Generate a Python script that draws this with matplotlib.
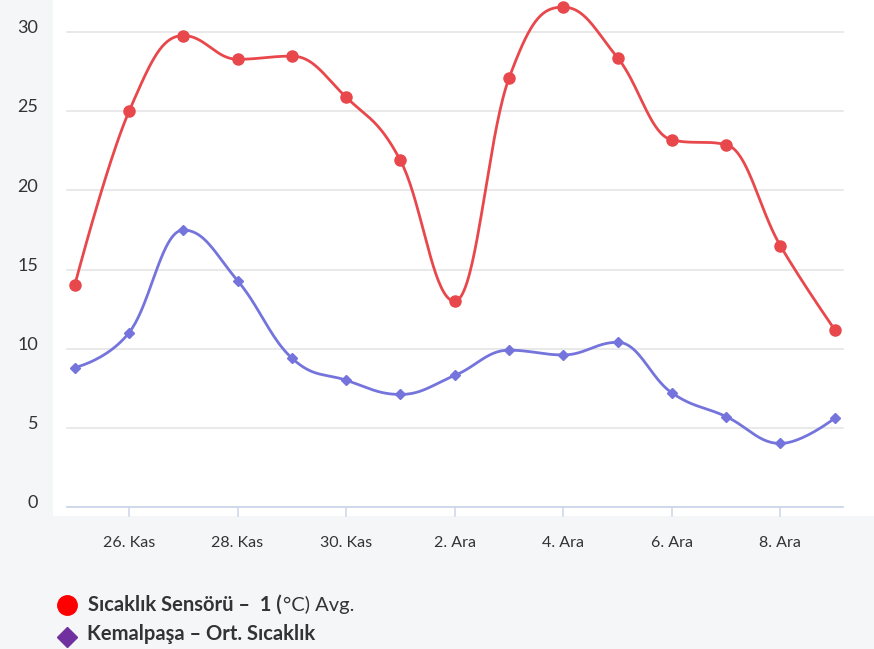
import numpy as np
import matplotlib
matplotlib.use("Agg")
import matplotlib.pyplot as plt
from matplotlib.lines import Line2D
import matplotlib.transforms as mtransforms

# Daily values, 25 Nov - 9 Dec
days = ["25. Kas", "26. Kas", "27. Kas", "28. Kas", "29. Kas", "30. Kas",
        "1. Ara", "2. Ara", "3. Ara", "4. Ara", "5. Ara", "6. Ara",
        "7. Ara", "8. Ara", "9. Ara"]
sensor_avg = [14.0, 25.0, 29.8, 28.3, 28.5, 25.9, 21.9, 13.0,
              27.1, 31.6, 28.4, 23.2, 22.9, 16.5, 11.2]
kemalpasa_avg = [8.8, 11.0, 17.5, 14.3, 9.4, 8.0, 7.1, 8.3,
                 9.9, 9.6, 10.4, 7.2, 5.7, 4.0, 5.6]
tick_labels = ["26. Kas", "28. Kas", "30. Kas", "2. Ara", "4. Ara", "6. Ara", "8. Ara"]
y_ticks = [0, 5, 10, 15, 20, 25, 30]

series_names = ["Sıcaklık Sensörü –  1 (", "°C) Avg.", "Kemalpaşa – Ort. Sıcaklık"]

RED = "#e8484c"
BLUE = "#7474dc"
GRID = "#e3e3e3"
AXIS = "#ccd6eb"
TEXT = "#333333"
BG = "#f5f6f8"

plt.rcParams["font.family"] = ["Lato", "DejaVu Sans"]


def spline(xs, ys, smoothing=1.5, n=40):
    """Cubic Bezier smoothing through every point (Highcharts-style spline)."""
    xs = np.asarray(xs, float)
    ys = np.asarray(ys, float)
    m = len(xs)
    left = [(xs[i], ys[i]) for i in range(m)]
    right = [(xs[i], ys[i]) for i in range(m)]
    d = smoothing + 1
    for i in range(1, m - 1):
        x, y = xs[i], ys[i]
        lx = (smoothing * x + xs[i - 1]) / d
        ly = (smoothing * y + ys[i - 1]) / d
        rx = (smoothing * x + xs[i + 1]) / d
        ry = (smoothing * y + ys[i + 1]) / d
        if rx != lx:
            corr = (ry - ly) * (rx - x) / (rx - lx) + y - ry
            ly += corr
            ry += corr
        if ly > ys[i - 1] and ly > y:
            ly = max(ys[i - 1], y)
            ry = 2 * y - ly
        elif ly < ys[i - 1] and ly < y:
            ly = min(ys[i - 1], y)
            ry = 2 * y - ly
        if ry > ys[i + 1] and ry > y:
            ry = max(ys[i + 1], y)
            ly = 2 * y - ry
        elif ry < ys[i + 1] and ry < y:
            ry = min(ys[i + 1], y)
            ly = 2 * y - ry
        left[i] = (lx, ly)
        right[i] = (rx, ry)
    t = np.linspace(0, 1, n)[:, None]
    pts = []
    for i in range(1, m):
        p0 = np.array([xs[i - 1], ys[i - 1]])
        p1 = np.array(right[i - 1])
        p2 = np.array(left[i])
        p3 = np.array([xs[i], ys[i]])
        seg = ((1 - t) ** 3) * p0 + 3 * ((1 - t) ** 2) * t * p1 \
            + 3 * (1 - t) * t ** 2 * p2 + t ** 3 * p3
        pts.append(seg if i == 1 else seg[1:])
    pts = np.vstack(pts)
    return pts[:, 0], pts[:, 1]


W, H = 874, 649
fig = plt.figure(figsize=(W / 100, H / 100), dpi=100, facecolor=BG)

# plot panel (white) in pixel geometry
ax_l, ax_r, ax_t, ax_b = 53, 874, 0, 516
ax = fig.add_axes([ax_l / W, 1 - ax_b / H, (ax_r - ax_l) / W, (ax_b - ax_t) / H])
ax.set_facecolor("white")
for s in ax.spines.values():
    s.set_visible(False)

x = np.arange(len(days))
px_step = 760 / 14.0
x0_px = 74.7
ax.set_xlim((ax_l - x0_px) / px_step, (ax_r - x0_px) / px_step)
y_px = 15.81
y0_px = 506.7
ax.set_ylim((y0_px - ax_b) / y_px, (y0_px - ax_t) / y_px)
ax.set_xticks([])
ax.set_yticks([])

g_left = (67 - x0_px) / px_step
g_right = (843 - x0_px) / px_step
for v in y_ticks[1:]:
    ax.plot([g_left, g_right], [v, v], color=GRID, lw=1.1, zorder=1)
ax.plot([g_left, g_right], [0, 0], color=AXIS, lw=1.3, zorder=1)

# tick marks below the baseline
tick_pos = [days.index(lbl) for lbl in tick_labels]
ymin = ax.get_ylim()[0]
for p in tick_pos:
    ax.plot([p, p], [ymin, 0], color=AXIS, lw=1.1, zorder=1, clip_on=False)

# y tick labels
up = mtransforms.ScaledTranslation(0, 4 / 100, fig.dpi_scale_trans)
ytr = ax.get_yaxis_transform() + up
for v in y_ticks:
    ax.text((38 - ax_l) / (ax_r - ax_l), v, str(v), transform=ytr,
            ha="right", va="center", fontsize=13, color=TEXT, clip_on=False)

# x tick labels
xtr = ax.get_xaxis_transform()
for p, lbl in zip(tick_pos, tick_labels):
    ax.text(p, -(543 - ax_b) / (ax_b - ax_t), lbl, transform=xtr,
            ha="center", va="center", fontsize=11.5, color=TEXT, clip_on=False)

# series
sx, sy = spline(x, sensor_avg)
ax.plot(sx, sy, color=RED, lw=2.0, zorder=3, solid_capstyle="round")
ax.plot(x, sensor_avg, ls="none", marker="o", ms=8, color=RED, zorder=4)

kx, ky = spline(x, kemalpasa_avg)
ax.plot(kx, ky, color=BLUE, lw=2.0, zorder=3, solid_capstyle="round")
ax.plot(x, kemalpasa_avg, ls="none", marker="D", ms=5.5, color=BLUE, zorder=4)

# legend
fig.add_artist(Line2D([67 / W], [1 - 605 / H], marker="o", ms=14, color="#ff0000",
                      ls="none", transform=fig.transFigure))
fig.add_artist(Line2D([67 / W], [1 - 637 / H], marker="D", ms=10, color="#7030a0",
                      ls="none", transform=fig.transFigure))
t1 = fig.text(88 / W, 1 - 605 / H, series_names[0], fontsize=14.5, fontweight="bold",
              color=TEXT, ha="left", va="center")
fig.canvas.draw()
bb = t1.get_window_extent(renderer=fig.canvas.get_renderer())
fig.text(bb.x1 / W + 1 / W, 1 - 605 / H, series_names[1], fontsize=14.5,
         color=TEXT, ha="left", va="center")
fig.text(87 / W, 1 - 634 / H, series_names[2], fontsize=14.5, fontweight="bold",
         color=TEXT, ha="left", va="center")

fig.savefig("out.png", dpi=100, facecolor=BG)
